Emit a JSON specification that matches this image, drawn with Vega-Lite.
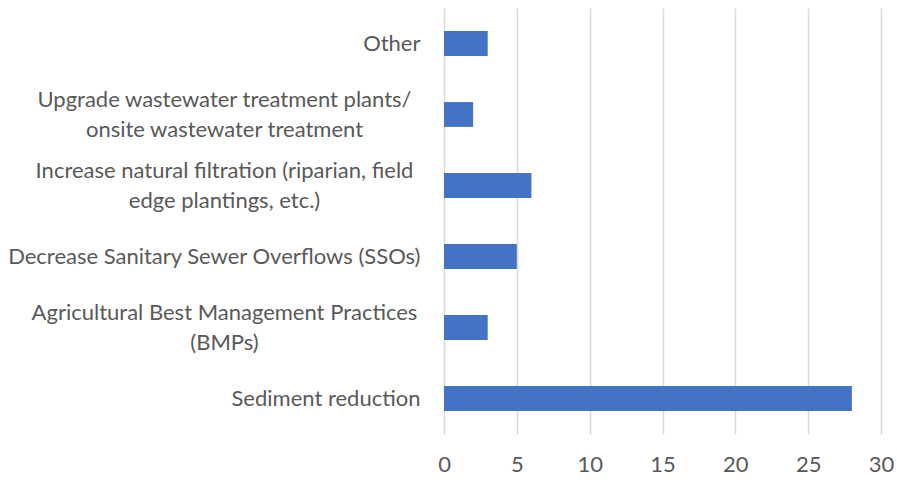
{
  "$schema": "https://vega.github.io/schema/vega-lite/v6.json",
  "autosize": "none",
  "width": 437,
  "height": 426,
  "padding": {"left": 444, "top": 8, "right": 16, "bottom": 50},
  "background": "white",
  "config": {"view": {"stroke": null}, "font": "Lato"},
  "data": {
    "values": [
      {"category": "Other", "value": 3},
      {"category": "Upgrade wastewater treatment  plants/|onsite wastewater treatment", "value": 2},
      {"category": "Increase natural filtration (riparian, field|edge plantings, etc.)", "value": 6},
      {"category": "Decrease Sanitary Sewer Overflows (SSOs)", "value": 5},
      {"category": "Agricultural Best Management Practices|(BMPs)", "value": 3},
      {"category": "Sediment reduction", "value": 28}
    ]
  },
  "mark": {"type": "bar", "color": "#4472C4"},
  "encoding": {
    "y": {
      "field": "category",
      "type": "nominal",
      "sort": null,
      "scale": {"paddingInner": 0.65, "paddingOuter": 0.325},
      "axis": {
        "title": null,
        "domain": false,
        "ticks": false,
        "labelExpr": "split(datum.label, '|')",
        "labelAlign": {"condition": {"test": "indexof(datum.label, '|') >= 0", "value": "center"}, "value": "right"},
        "labelPadding": {"condition": {"test": "indexof(datum.label, '|') >= 0", "value": 220}, "value": 24},
        "labelOffset": {"condition": {"test": "indexof(datum.label, '|') >= 0", "value": -15}, "value": 0},
        "labelFontSize": 22,
        "labelColor": "#595959",
        "labelLineHeight": 30,
        "labelLimit": 500
      }
    },
    "x": {
      "field": "value",
      "type": "quantitative",
      "scale": {"domain": [0, 30], "nice": false},
      "axis": {
        "title": null,
        "domain": false,
        "ticks": false,
        "values": [0, 5, 10, 15, 20, 25, 30],
        "gridColor": "#d9d9d9",
        "gridWidth": 1.5,
        "labelFontSize": 22,
        "labelColor": "#595959",
        "labelPadding": 20,
        "labelFlush": false
      }
    }
  }
}
